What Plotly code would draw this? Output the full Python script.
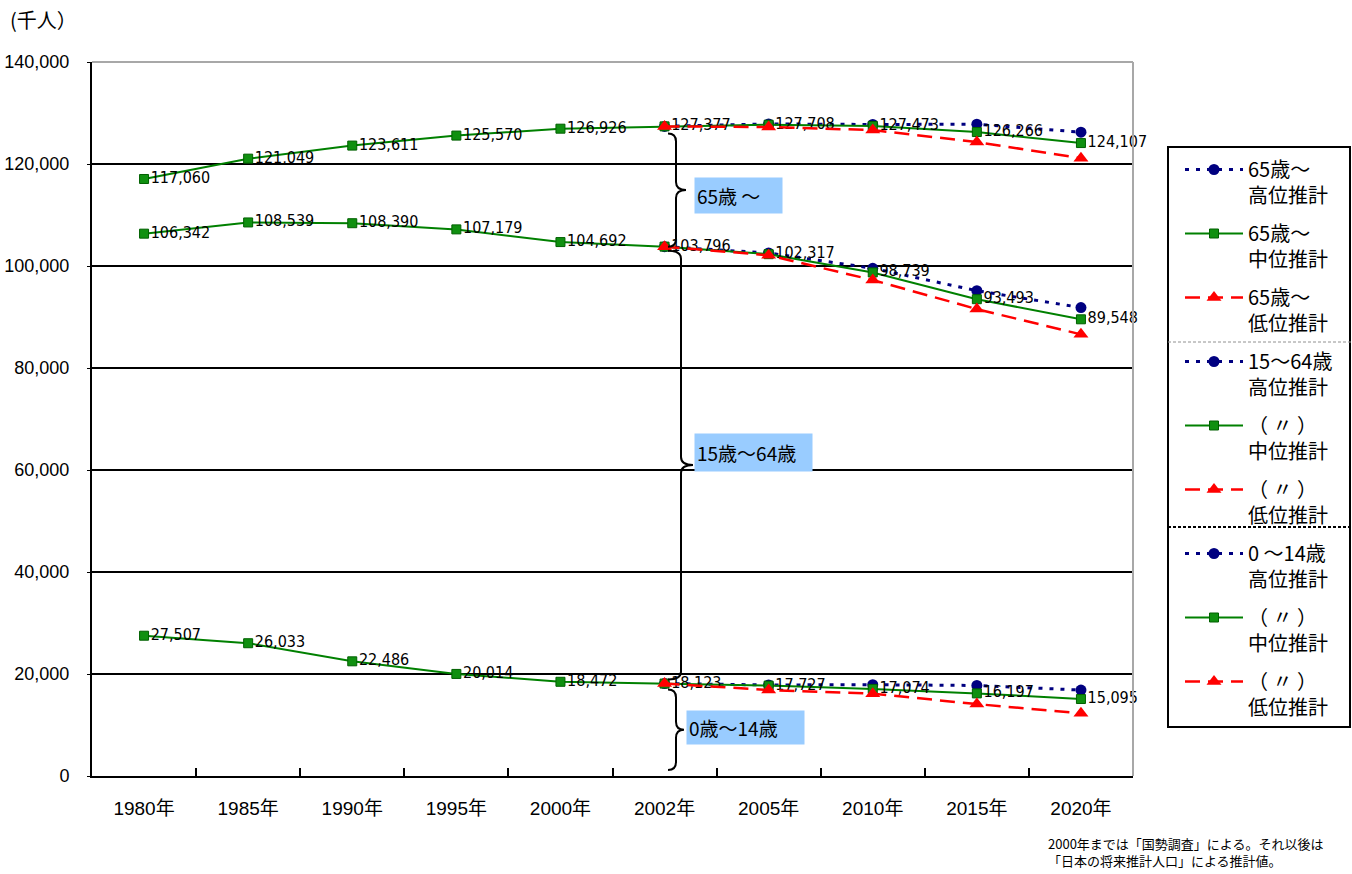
import plotly.graph_objects as go

# ---- data (thousand persons) ----
years = ["1980年", "1985年", "1990年", "1995年", "2000年",
         "2002年", "2005年", "2010年", "2015年", "2020年"]
proj_years = years[5:]  # projections start at 2002

# cumulative totals: all ages (top band), 0-64 (middle band), 0-14 (bottom band)
total_mid = [117060, 121049, 123611, 125570, 126926, 127377, 127708, 127473, 126266, 124107]
total_high = [127377, 127850, 127750, 127800, 126250]
total_low = [127377, 127250, 126650, 124300, 121150]

under65_mid = [106342, 108539, 108390, 107179, 104692, 103796, 102317, 98739, 93493, 89548]
under65_high = [103796, 102550, 99550, 95150, 91850]
under65_low = [103796, 102100, 97250, 91550, 86600]

under15_mid = [27507, 26033, 22486, 20014, 18472, 18123, 17727, 17074, 16197, 15095]
under15_high = [18123, 17850, 17900, 17750, 16850]
under15_low = [18123, 16850, 16150, 14100, 12300]

legend_names = [
    "65歳～<br>高位推計", "65歳～<br>中位推計", "65歳～<br>低位推計",
    "15～64歳<br>高位推計", "（ 〃 ）<br>中位推計", "（ 〃 ）<br>低位推計",
    "0 ～14歳<br>高位推計", "（ 〃 ）<br>中位推計", "（ 〃 ）<br>低位推計",
]
band_labels = ["65歳 ～", "15歳～64歳", "0歳～14歳"]
y_ticks = [0, 20000, 40000, 60000, 80000, 100000, 120000, 140000]

# ---- page geometry (pixels) ----
W, H = 1352, 874
L, R, T, B = 92, 1133, 62, 776


def fx(px):
    return (px - L) / (R - L)


def fy(py):
    return (B - py) / (B - T)


YMAX = 140000
PX_PER_UNIT = (B - T) / YMAX

NUM_FONT = "DejaVu Sans Condensed, Liberation Sans Narrow, Liberation Sans, Arial, Noto Sans CJK JP"
TICK_FONT = "Liberation Sans, Arial, Noto Sans CJK JP"
JP_FONT = "Noto Sans CJK JP, Liberation Sans, sans-serif"

high_style = dict(
    mode="lines+markers",
    line=dict(color="#000080", width=3, dash="4px,7px"),
    marker=dict(symbol="circle", size=11, color="#000080"),
)
mid_style = dict(
    mode="lines+markers+text",
    line=dict(color="#008000", width=2),
    marker=dict(symbol="square", size=9, color="#109010",
                line=dict(color="#006000", width=1)),
    textposition="middle right",
    textfont=dict(family=NUM_FONT, size=16, color="black"),
    cliponaxis=False,
)
low_style = dict(
    mode="lines+markers",
    line=dict(color="#FF0000", width=2.5, dash="15px,8px"),
    marker=dict(symbol="triangle-up", size=13, color="#FF0000"),
)

fig = go.Figure()
groups = [
    (total_high, total_mid, total_low),
    (under65_high, under65_mid, under65_low),
    (under15_high, under15_mid, under15_low),
]
k = 0
for hi, mid, lo in groups:
    fig.add_trace(go.Scatter(x=proj_years, y=hi, name=legend_names[k],
                             legendgroup=str(k), **high_style))
    fig.add_trace(go.Scatter(x=years, y=mid, name=legend_names[k + 1],
                             legendgroup=str(k + 1),
                             text=[f"{v:,}" for v in mid], **mid_style))
    fig.add_trace(go.Scatter(x=proj_years, y=lo, name=legend_names[k + 2],
                             legendgroup=str(k + 2), **low_style))
    k += 3

shapes = []
# plot frame: grey top and right edges
shapes.append(dict(type="line", xref="paper", yref="paper", x0=0, x1=1, y0=1, y1=1,
                   line=dict(color="#A8A8A8", width=2)))
shapes.append(dict(type="line", xref="paper", yref="paper", x0=1, x1=1, y0=0, y1=1,
                   line=dict(color="#A8A8A8", width=2)))

# curly braces spanning each age band at 2002
band_edges = [(total_mid[5], under65_mid[5]), (under65_mid[5], under15_mid[5]),
              (under15_mid[5], 0)]
brace_geom = [  # (end x, spine x, tip x, top pad px, bottom pad px)
    (668, 676, 686, 7, 0),
    (668, 681, 693, 4, 4),
    (668, 676, 684, 6, 6),
]
for (top_v, bot_v), (xe, xs, xt, pt, pb) in zip(band_edges, brace_geom):
    yt = B - top_v * PX_PER_UNIT + pt
    yb = B - bot_v * PX_PER_UNIT - pb
    ym = (yt + yb) / 2
    r = 8
    pts = [
        f"M {fx(xe)},{fy(yt)}",
        f"Q {fx(xs)},{fy(yt)} {fx(xs)},{fy(yt + r)}",
        f"L {fx(xs)},{fy(ym - r)}",
        f"Q {fx(xs)},{fy(ym)} {fx(xt)},{fy(ym)}",
        f"Q {fx(xs)},{fy(ym)} {fx(xs)},{fy(ym + r)}",
        f"L {fx(xs)},{fy(yb - r)}",
        f"Q {fx(xs)},{fy(yb)} {fx(xe)},{fy(yb)}",
    ]
    shapes.append(dict(type="path", xref="paper", yref="paper", path=" ".join(pts),
                       line=dict(color="black", width=2)))

# legend frame and group separators
shapes.append(dict(type="rect", xref="paper", yref="paper",
                   x0=fx(1168), x1=fx(1350), y0=fy(727), y1=fy(147),
                   line=dict(color="black", width=2)))
shapes.append(dict(type="line", xref="paper", yref="paper",
                   x0=fx(1168), x1=fx(1352), y0=fy(342), y1=fy(342),
                   line=dict(color="#909090", width=1, dash="3px,2px")))
shapes.append(dict(type="line", xref="paper", yref="paper",
                   x0=fx(1168), x1=fx(1350), y0=fy(527), y1=fy(527),
                   line=dict(color="black", width=2, dash="3px,2px")))

annotations = []
# band labels on light-blue boxes
box_geom = [  # (left px, centre y px, width, height)
    (694, 195, 83, 31),
    (694, 452, 113, 33),
    (686, 727, 113, 29),
]
for text, (bx, by, bw, bh) in zip(band_labels, box_geom):
    annotations.append(dict(
        text=text, xref="paper", yref="paper", x=fx(bx), y=fy(by),
        xanchor="left", yanchor="middle", showarrow=False, align="left",
        width=bw, height=bh, bgcolor="#99CCFF", borderpad=2,
        font=dict(family=JP_FONT, size=19, color="black"),
    ))

annotations.append(dict(
    text="(千人）", xref="paper", yref="paper", x=fx(8), y=fy(20),
    xanchor="left", yanchor="middle", showarrow=False,
    font=dict(family=JP_FONT, size=20, color="black"),
))
annotations.append(dict(
    text="2000年までは「国勢調査」による。それ以後は<br>「日本の将来推計人口」による推計値。",
    xref="paper", yref="paper", x=fx(1046), y=fy(852),
    xanchor="left", yanchor="middle", showarrow=False, align="left",
    font=dict(family=JP_FONT, size=13, color="black"),
))

fig.update_layout(
    width=W, height=H,
    margin=dict(l=L, r=W - R, t=T, b=H - B, pad=0, autoexpand=False),
    paper_bgcolor="white", plot_bgcolor="white",
    showlegend=True,
    legend=dict(
        x=fx(1180), y=fy(150), xanchor="left", yanchor="top",
        bgcolor="rgba(0,0,0,0)", borderwidth=0,
        font=dict(family=JP_FONT, size=20, color="black"),
        itemwidth=58, tracegroupgap=9, valign="top",
    ),
    shapes=shapes,
    annotations=annotations,
    xaxis=dict(
        type="category", categoryorder="array", categoryarray=years,
        range=[-0.5, len(years) - 0.5], automargin=False,
        showline=True, linecolor="black", linewidth=2,
        ticks="inside", ticklen=8, tickwidth=2, tickcolor="black",
        tickson="boundaries", showgrid=False, zeroline=False,
        tickfont=dict(family=TICK_FONT, size=19, color="black"),
        ticklabelstandoff=14,
    ),
    yaxis=dict(
        range=[0, YMAX], tickvals=y_ticks, tickformat=",d", automargin=False,
        showline=True, linecolor="black", linewidth=2,
        ticks="outside", ticklen=3, tickwidth=1, tickcolor="black",
        showgrid=True, gridcolor="black", gridwidth=1.5, zeroline=False,
        tickfont=dict(family=TICK_FONT, size=18, color="black"),
        ticklabelstandoff=14,
    ),
)

fig.write_html("out.html")
